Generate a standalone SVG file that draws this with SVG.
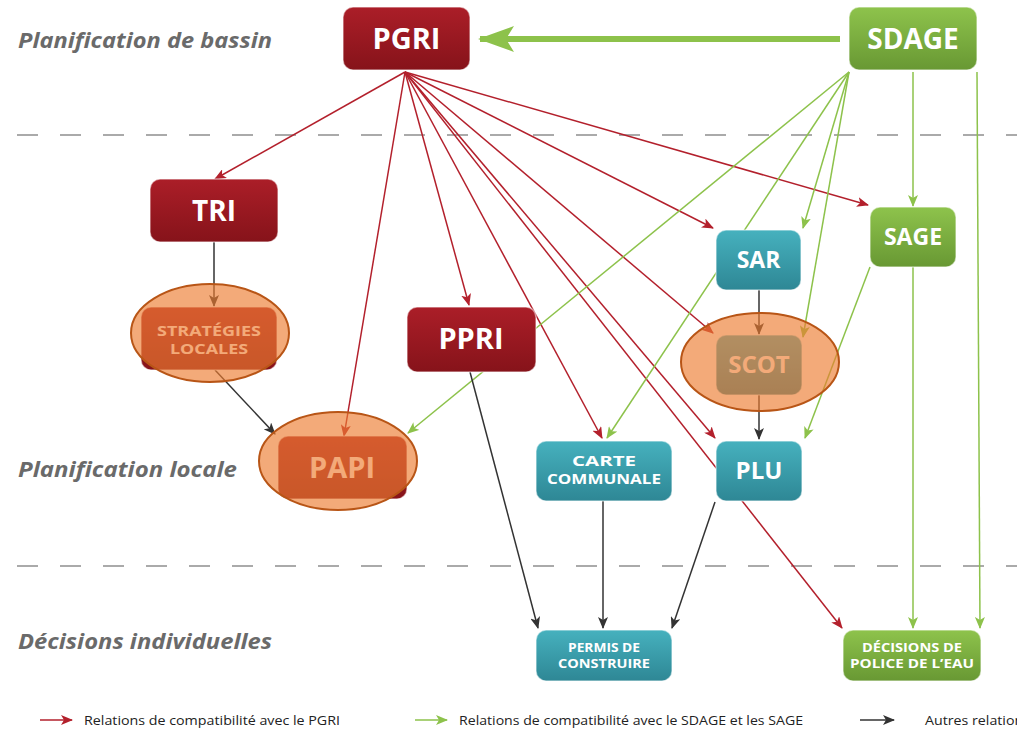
<svg xmlns="http://www.w3.org/2000/svg" width="1017" height="731" viewBox="0 0 1017 731">
<defs>
<linearGradient id="gRed" x1="0" y1="0" x2="0" y2="1"><stop offset="0" stop-color="#ab1e28"/><stop offset="1" stop-color="#86131a"/></linearGradient>
<linearGradient id="gTeal" x1="0" y1="0" x2="0" y2="1"><stop offset="0" stop-color="#46b1be"/><stop offset="1" stop-color="#2e8795"/></linearGradient>
<linearGradient id="gGreen" x1="0" y1="0" x2="0" y2="1"><stop offset="0" stop-color="#8ec34c"/><stop offset="1" stop-color="#689833"/></linearGradient>
<marker id="aR" markerWidth="12" markerHeight="10" refX="11" refY="5" orient="auto" markerUnits="userSpaceOnUse"><path d="M0,0 L12,5 L0,10 L3,5 Z" fill="#b3202c"/></marker>
<marker id="aG" markerWidth="12" markerHeight="10" refX="11" refY="5" orient="auto" markerUnits="userSpaceOnUse"><path d="M0,0 L12,5 L0,10 L3,5 Z" fill="#8dc24b"/></marker>
<marker id="aK" markerWidth="12" markerHeight="10" refX="11" refY="5" orient="auto" markerUnits="userSpaceOnUse"><path d="M0,0 L12,5 L0,10 L3,5 Z" fill="#333333"/></marker>
<marker id="aBig" markerWidth="36" markerHeight="26" refX="34" refY="13" orient="auto" markerUnits="userSpaceOnUse"><path d="M0,0 L36,13 L0,26 L8,13 Z" fill="#8dc24b"/></marker>
</defs>
<style>
.sec{font-family:"Open Sans","DejaVu Sans",sans-serif;font-style:italic;font-weight:700;font-size:22px;fill:#6a6a6a}
.dash{stroke:#aaaaaa;stroke-width:2;stroke-dasharray:21 22;fill:none}
.r{stroke:#b3202c;stroke-width:1.5;fill:none;marker-end:url(#aR)}
.g{stroke:#8dc24b;stroke-width:1.5;fill:none;marker-end:url(#aG)}
.k{stroke:#333333;stroke-width:1.5;fill:none;marker-end:url(#aK)}
.box{stroke:#ffffff;stroke-opacity:0.5;stroke-width:1.5}
.red{fill:url(#gRed)}
.teal{fill:url(#gTeal)}
.green{fill:url(#gGreen)}
.t{font-family:"Open Sans","DejaVu Sans",sans-serif;font-weight:700;fill:#ffffff;text-anchor:middle}
.hl{fill:#ED7D31;fill-opacity:0.65;stroke:#b85516;stroke-width:2}
.leg{font-family:"Open Sans","DejaVu Sans",sans-serif;font-size:13px;fill:#222222}
</style>

<g id="sections">
<line class="dash" x1="17" y1="135" x2="1017" y2="135"/>
<line class="dash" x1="17" y1="566" x2="1017" y2="566"/>
<text class="sec" x="18" y="48" textLength="254" lengthAdjust="spacingAndGlyphs">Planification de bassin</text>
<text class="sec" x="18" y="477" textLength="219" lengthAdjust="spacingAndGlyphs">Planification locale</text>
<text class="sec" x="18" y="649" textLength="254" lengthAdjust="spacingAndGlyphs">Décisions individuelles</text>
</g>

<g id="connectors">
<line x1="840" y1="39" x2="480" y2="39" stroke="#8dc24b" stroke-width="6" marker-end="url(#aBig)"/>
<line class="r" x1="405" y1="72" x2="215" y2="179"/>
<line class="r" x1="405" y1="72" x2="344" y2="436"/>
<line class="r" x1="405" y1="72" x2="469" y2="305"/>
<line class="r" x1="405" y1="72" x2="602" y2="438"/>
<line class="r" x1="405" y1="72" x2="715" y2="438"/>
<line class="r" x1="405" y1="72" x2="842" y2="628"/>
<line class="r" x1="405" y1="72" x2="713" y2="333"/>
<line class="r" x1="405" y1="72" x2="713" y2="228"/>
<line class="r" x1="405" y1="72" x2="868" y2="205"/>
<line class="g" x1="849" y1="72" x2="408" y2="433"/>
<line class="g" x1="849" y1="72" x2="607" y2="438"/>
<line class="g" x1="849" y1="72" x2="803" y2="228"/>
<line class="g" x1="849" y1="72" x2="803" y2="337"/>
<line class="g" x1="870" y1="267" x2="805" y2="438"/>
<line class="g" x1="913" y1="72" x2="913" y2="206"/>
<line class="g" x1="913" y1="267" x2="913" y2="628"/>
<line class="g" x1="977" y1="72" x2="980" y2="628"/>
<line class="k" x1="214" y1="242" x2="214" y2="306"/>
<line class="k" x1="215" y1="370" x2="275" y2="434"/>
<line class="k" x1="470" y1="372" x2="538" y2="628"/>
<line class="k" x1="603" y1="501" x2="603" y2="628"/>
<line class="k" x1="715" y1="502" x2="672" y2="628"/>
<line class="k" x1="759" y1="290" x2="759" y2="334"/>
<line class="k" x1="759" y1="395" x2="759" y2="439"/>
</g>

<g id="PGRI"><rect class="box red" x="343" y="7" width="127" height="63" rx="10"/><text class="t" x="406.5" y="49" font-size="29">PGRI</text></g>
<g id="SDAGE"><rect class="box green" x="849" y="7" width="128" height="63" rx="10"/><text class="t" x="913" y="49" font-size="28">SDAGE</text></g>
<g id="TRI"><rect class="box red" x="150" y="179" width="128" height="63" rx="10"/><text class="t" x="214" y="221" font-size="28">TRI</text></g>
<g id="STRATEGIES"><rect class="box red" x="141" y="307" width="136" height="63" rx="10"/><text class="t" font-size="13.5"><tspan x="209" y="336" textLength="104" lengthAdjust="spacingAndGlyphs">STRATÉGIES</tspan><tspan x="209" y="354" textLength="78" lengthAdjust="spacingAndGlyphs">LOCALES</tspan></text><ellipse class="hl" cx="210" cy="333" rx="79" ry="49"/></g>
<g id="PAPI"><rect class="box red" x="278" y="436" width="129" height="63" rx="10"/><text class="t" x="342" y="478" font-size="29">PAPI</text><ellipse class="hl" cx="338" cy="461" rx="79" ry="49"/></g>
<g id="PPRI"><rect class="box red" x="407" y="307" width="129" height="65" rx="10"/><text class="t" x="471" y="349" font-size="29">PPRI</text></g>
<g id="SAR"><rect class="box teal" x="716" y="230" width="85" height="60" rx="10"/><text class="t" x="758.5" y="268" font-size="23">SAR</text></g>
<g id="SAGE"><rect class="box green" x="870" y="207" width="86" height="60" rx="10"/><text class="t" x="913" y="245" font-size="23">SAGE</text></g>
<g id="SCOT"><rect class="box teal" x="716" y="335" width="86" height="60" rx="10"/><text class="t" x="759" y="373" font-size="24">SCOT</text><ellipse class="hl" cx="760" cy="362" rx="79" ry="49"/></g>
<g id="CARTE"><rect class="box teal" x="536" y="441" width="136" height="60" rx="10"/><text class="t" font-size="13.5"><tspan x="604" y="466" textLength="64" lengthAdjust="spacingAndGlyphs">CARTE</tspan><tspan x="604" y="484" textLength="114" lengthAdjust="spacingAndGlyphs">COMMUNALE</tspan></text></g>
<g id="PLU"><rect class="box teal" x="716" y="441" width="86" height="60" rx="10"/><text class="t" x="759" y="479" font-size="24">PLU</text></g>
<g id="PERMIS"><rect class="box teal" x="536" y="630" width="136" height="51" rx="10"/><text class="t" font-size="13"><tspan x="604" y="652" textLength="72" lengthAdjust="spacingAndGlyphs">PERMIS DE</tspan><tspan x="604" y="668" textLength="92" lengthAdjust="spacingAndGlyphs">CONSTRUIRE</tspan></text></g>
<g id="DECISIONS"><rect class="box green" x="843" y="630" width="138" height="51" rx="10"/><text class="t" font-size="13"><tspan x="912" y="652" textLength="100" lengthAdjust="spacingAndGlyphs">DÉCISIONS DE</tspan><tspan x="912" y="668" textLength="124" lengthAdjust="spacingAndGlyphs">POLICE DE L’EAU</tspan></text></g>

<g id="legend">
<line class="r" x1="40" y1="720" x2="72" y2="720"/>
<text class="leg" x="84" y="725" textLength="256" lengthAdjust="spacingAndGlyphs">Relations de compatibilité avec le PGRI</text>
<line class="g" x1="415" y1="720" x2="447" y2="720"/>
<text class="leg" x="459" y="725" textLength="344" lengthAdjust="spacingAndGlyphs">Relations de compatibilité avec le SDAGE et les SAGE</text>
<line class="k" x1="860" y1="720" x2="894" y2="720"/>
<text class="leg" x="925" y="725" textLength="105" lengthAdjust="spacingAndGlyphs">Autres relations</text>
</g>
</svg>
